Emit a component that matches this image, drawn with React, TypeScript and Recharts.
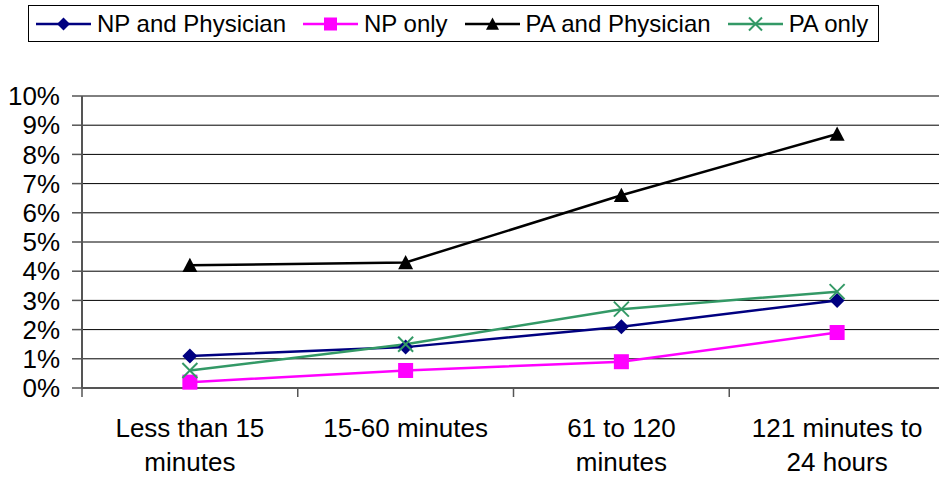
import React from "react";
import { LineChart, Line, XAxis, YAxis, CartesianGrid, Legend } from "recharts";

const categories = ["Less than 15\nminutes", "15-60 minutes", "61 to 120\nminutes", "121 minutes to\n24 hours"];
const npAndPhysician = [0.011, 0.014, 0.021, 0.03];
const npOnly = [0.002, 0.006, 0.009, 0.019];
const paAndPhysician = [0.042, 0.043, 0.066, 0.087];
const paOnly = [0.006, 0.015, 0.027, 0.033];
const yTicks = [0, 0.01, 0.02, 0.03, 0.04, 0.05, 0.06, 0.07, 0.08, 0.09, 0.1];
const boundaryTicks = [0, 1, 2, 3, 4];

const seriesInfo = [
  { key: "npPhys", name: "NP and Physician", color: "#000080", shape: "diamond" },
  { key: "npOnly", name: "NP only", color: "#FF00FF", shape: "square" },
  { key: "paPhys", name: "PA and Physician", color: "#000000", shape: "triangle" },
  { key: "paOnly", name: "PA only", color: "#339966", shape: "cross" },
];

const data = categories.map((c, i) => ({
  cat: c,
  slot: i + 0.5,
  npPhys: npAndPhysician[i],
  npOnly: npOnly[i],
  paPhys: paAndPhysician[i],
  paOnly: paOnly[i],
}));

const FONT = "'Liberation Sans', Arial, sans-serif";

function Marker({ shape, color, cx, cy, s }: { shape: string; color: string; cx: number; cy: number; s: number }) {
  const h = s / 2;
  if (shape === "diamond") {
    return <polygon points={`${cx},${cy - h} ${cx + h},${cy} ${cx},${cy + h} ${cx - h},${cy}`} fill={color} />;
  }
  if (shape === "square") {
    return <rect x={cx - h} y={cy - h} width={s} height={s} fill={color} />;
  }
  if (shape === "triangle") {
    return <polygon points={`${cx},${cy - h} ${cx + h},${cy + h * 0.9} ${cx - h},${cy + h * 0.9}`} fill={color} />;
  }
  return (
    <g stroke={color} strokeWidth={2}>
      <line x1={cx - h} y1={cy - h} x2={cx + h} y2={cy + h} />
      <line x1={cx - h} y1={cy + h} x2={cx + h} y2={cy - h} />
    </g>
  );
}

const makeDot = (shape: string, color: string) => (props: any) => {
  const { cx, cy, index } = props;
  if (cx == null || cy == null) return <g key={index} />;
  return <Marker key={index} shape={shape} color={color} cx={cx} cy={cy} s={15} />;
};

function LegendBox() {
  return (
    <div
      style={{
        display: "flex",
        alignItems: "center",
        border: "1px solid #000",
        background: "#fff",
        height: 35,
        paddingLeft: 7,
        paddingRight: 10,
        fontFamily: FONT,
        fontSize: 24,
        color: "#000",
        whiteSpace: "nowrap",
        boxSizing: "content-box",
      }}
    >
      {seriesInfo.map((s, i) => (
        <div key={s.key} style={{ display: "flex", alignItems: "center", marginRight: i < seriesInfo.length - 1 ? 17 : 0 }}>
          <svg width={55} height={20} style={{ display: "block" }}>
            <line x1={0} y1={10} x2={55} y2={10} stroke={s.color} strokeWidth={2.5} />
            <Marker shape={s.shape} color={s.color} cx={27.5} cy={10} s={13} />
          </svg>
          <span style={{ marginLeft: 6 }}>{s.name}</span>
        </div>
      ))}
    </div>
  );
}

// Category label centred between this boundary tick and the next one
function CatTick(props: any) {
  const { x, y, payload, width, visibleTicksCount } = props;
  const idx = Math.round(payload.value);
  const label = categories[idx];
  if (label == null) return <g />;
  const half = width / (visibleTicksCount - 1) / 2;
  const cx = x + half;
  const lines = label.split("\n");
  return (
    <text x={cx} y={y} textAnchor="middle" fontFamily={FONT} fontSize={26} fill="#000">
      {lines.map((l, i) => (
        <tspan key={i} x={cx} dy={i === 0 ? 40 : 34}>
          {l}
        </tspan>
      ))}
    </text>
  );
}

export default function App() {
  return (
    <div style={{ position: "absolute", left: 0, top: 0, width: 939, height: 482, overflow: "hidden", background: "#fff" }}>
      <LineChart width={945} height={482} data={data} margin={{ top: 96, right: 0, bottom: 0, left: 8 }}>
        <CartesianGrid vertical={false} stroke="#000" strokeWidth={1} />
        <XAxis
          dataKey="slot"
          type="number"
          domain={[0, 4]}
          ticks={boundaryTicks}
          allowDataOverflow
          interval={0}
          height={94}
          tickSize={9}
          tickMargin={0}
          tick={<CatTick />}
          tickLine={{ stroke: "#555", strokeWidth: 1.5 }}
          axisLine={{ stroke: "#555", strokeWidth: 2 }}
        />
        <YAxis
          type="number"
          domain={[0, 0.1]}
          ticks={yTicks}
          width={74}
          interval={0}
          tickFormatter={(v: number) => `${Math.round(v * 100)}%`}
          tick={{ fontFamily: FONT, fontSize: 26, fill: "#000" }}
          tickSize={10}
          tickMargin={12}
          tickLine={{ stroke: "#555", strokeWidth: 1.5 }}
          axisLine={{ stroke: "#555", strokeWidth: 2 }}
        />
        <Legend verticalAlign="middle" align="center" layout="horizontal" wrapperStyle={{ top: 5, left: 28, width: "auto" }} content={<LegendBox />} />
        {seriesInfo.map((s) => (
          <Line
            key={s.key}
            dataKey={s.key}
            name={s.name}
            stroke={s.color}
            strokeWidth={2.5}
            dot={makeDot(s.shape, s.color)}
            activeDot={false}
            isAnimationActive={false}
          />
        ))}
      </LineChart>
    </div>
  );
}
